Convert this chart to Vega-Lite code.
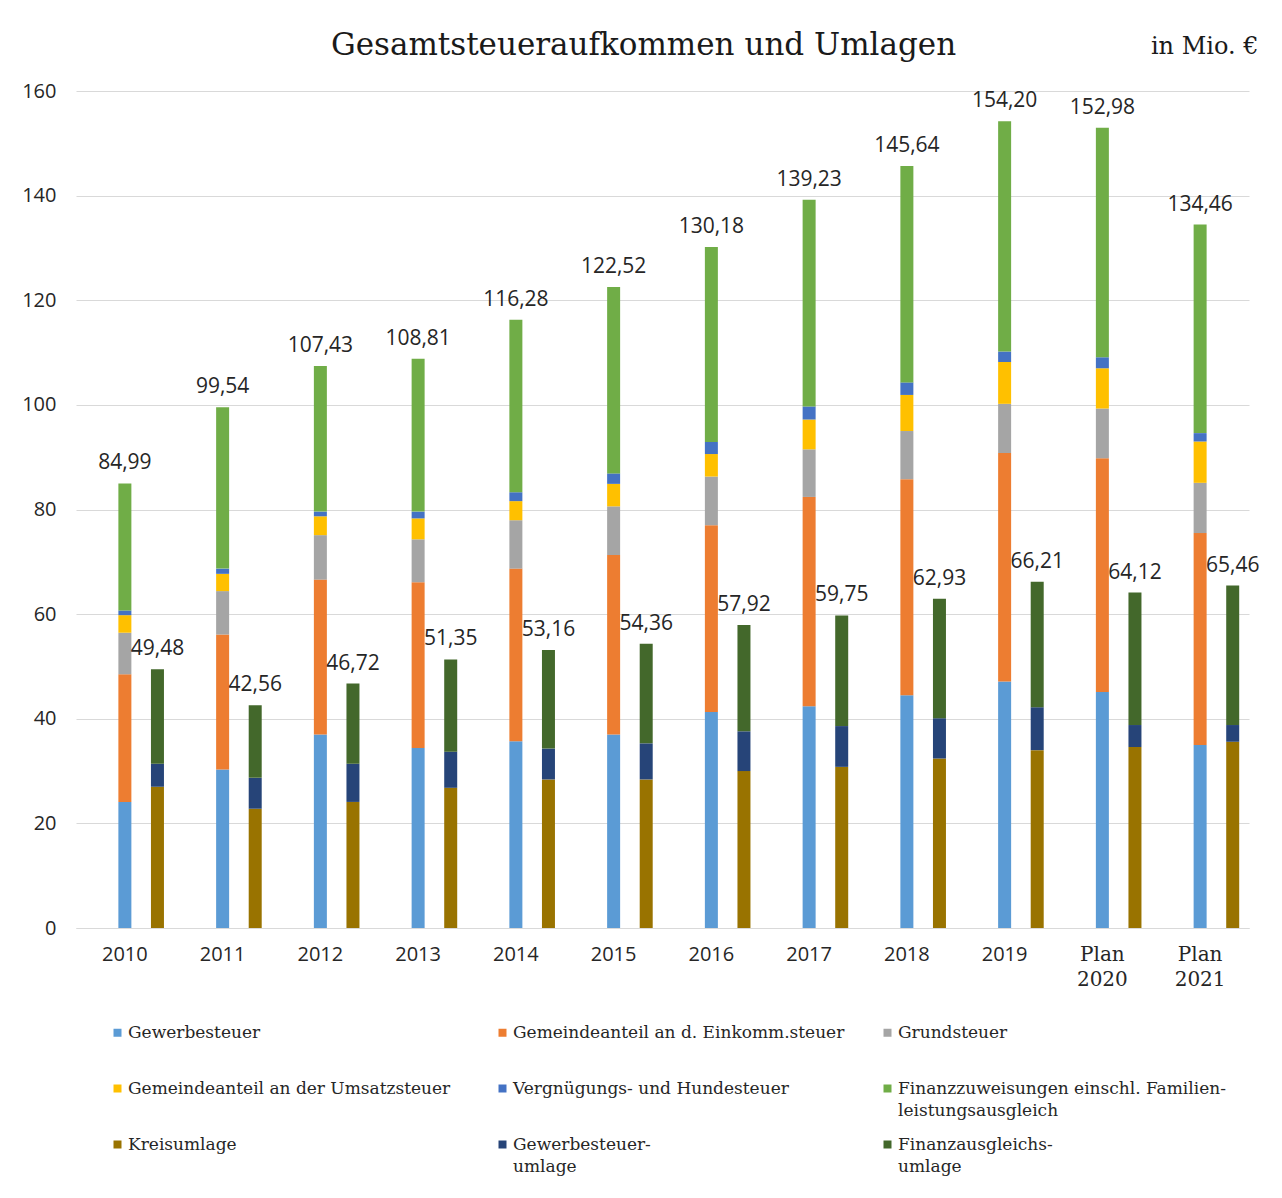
{
  "$schema": "https://vega.github.io/schema/vega-lite/v6.json",
  "width": 1173,
  "height": 837,
  "autosize": {"type": "none"},
  "padding": {"left": 76, "top": 91, "right": 33, "bottom": 270},
  "background": "white",
  "title": {"text": "Gesamtsteueraufkommen und Umlagen", "font": "DejaVu Serif", "fontSize": 31, "fontWeight": "normal", "color": "#1a1a1a", "anchor": "middle", "dx": -19, "offset": -28},
  "config": {
    "locale": {"number": {"decimal": ",", "thousands": ".", "grouping": [3], "currency": ["", " €"]}},
    "view": {"stroke": null},
    "style": {"guide-label": {"lineHeight": 22}}
  },
  "data": {"values": [
    {"j":"2010","g":"A","k":"Gewerbesteuer","v":24.1},
    {"j":"2010","g":"A","k":"Gemeindeanteil an d. Einkomm.steuer","v":24.4},
    {"j":"2010","g":"A","k":"Grundsteuer","v":7.95},
    {"j":"2010","g":"A","k":"Gemeindeanteil an der Umsatzsteuer","v":3.35},
    {"j":"2010","g":"A","k":"Vergnügungs- und Hundesteuer","v":0.9},
    {"j":"2010","g":"A","k":"Finanzzuweisungen einschl. Familienleistungsausgleich","v":24.29},
    {"j":"2010","g":"B","k":"Kreisumlage","v":27.0},
    {"j":"2010","g":"B","k":"Gewerbesteuerumlage","v":4.4},
    {"j":"2010","g":"B","k":"Finanzausgleichsumlage","v":18.08},
    {"j":"2011","g":"A","k":"Gewerbesteuer","v":30.3},
    {"j":"2011","g":"A","k":"Gemeindeanteil an d. Einkomm.steuer","v":25.8},
    {"j":"2011","g":"A","k":"Grundsteuer","v":8.3},
    {"j":"2011","g":"A","k":"Gemeindeanteil an der Umsatzsteuer","v":3.3},
    {"j":"2011","g":"A","k":"Vergnügungs- und Hundesteuer","v":1.0},
    {"j":"2011","g":"A","k":"Finanzzuweisungen einschl. Familienleistungsausgleich","v":30.84},
    {"j":"2011","g":"B","k":"Kreisumlage","v":22.8},
    {"j":"2011","g":"B","k":"Gewerbesteuerumlage","v":5.9},
    {"j":"2011","g":"B","k":"Finanzausgleichsumlage","v":13.86},
    {"j":"2012","g":"A","k":"Gewerbesteuer","v":37.0},
    {"j":"2012","g":"A","k":"Gemeindeanteil an d. Einkomm.steuer","v":29.6},
    {"j":"2012","g":"A","k":"Grundsteuer","v":8.5},
    {"j":"2012","g":"A","k":"Gemeindeanteil an der Umsatzsteuer","v":3.6},
    {"j":"2012","g":"A","k":"Vergnügungs- und Hundesteuer","v":0.9},
    {"j":"2012","g":"A","k":"Finanzzuweisungen einschl. Familienleistungsausgleich","v":27.83},
    {"j":"2012","g":"B","k":"Kreisumlage","v":24.1},
    {"j":"2012","g":"B","k":"Gewerbesteuerumlage","v":7.3},
    {"j":"2012","g":"B","k":"Finanzausgleichsumlage","v":15.32},
    {"j":"2013","g":"A","k":"Gewerbesteuer","v":34.4},
    {"j":"2013","g":"A","k":"Gemeindeanteil an d. Einkomm.steuer","v":31.7},
    {"j":"2013","g":"A","k":"Grundsteuer","v":8.2},
    {"j":"2013","g":"A","k":"Gemeindeanteil an der Umsatzsteuer","v":4.0},
    {"j":"2013","g":"A","k":"Vergnügungs- und Hundesteuer","v":1.3},
    {"j":"2013","g":"A","k":"Finanzzuweisungen einschl. Familienleistungsausgleich","v":29.21},
    {"j":"2013","g":"B","k":"Kreisumlage","v":26.8},
    {"j":"2013","g":"B","k":"Gewerbesteuerumlage","v":6.9},
    {"j":"2013","g":"B","k":"Finanzausgleichsumlage","v":17.65},
    {"j":"2014","g":"A","k":"Gewerbesteuer","v":35.7},
    {"j":"2014","g":"A","k":"Gemeindeanteil an d. Einkomm.steuer","v":33.0},
    {"j":"2014","g":"A","k":"Grundsteuer","v":9.25},
    {"j":"2014","g":"A","k":"Gemeindeanteil an der Umsatzsteuer","v":3.65},
    {"j":"2014","g":"A","k":"Vergnügungs- und Hundesteuer","v":1.7},
    {"j":"2014","g":"A","k":"Finanzzuweisungen einschl. Familienleistungsausgleich","v":32.98},
    {"j":"2014","g":"B","k":"Kreisumlage","v":28.4},
    {"j":"2014","g":"B","k":"Gewerbesteuerumlage","v":5.9},
    {"j":"2014","g":"B","k":"Finanzausgleichsumlage","v":18.86},
    {"j":"2015","g":"A","k":"Gewerbesteuer","v":37.0},
    {"j":"2015","g":"A","k":"Gemeindeanteil an d. Einkomm.steuer","v":34.3},
    {"j":"2015","g":"A","k":"Grundsteuer","v":9.3},
    {"j":"2015","g":"A","k":"Gemeindeanteil an der Umsatzsteuer","v":4.3},
    {"j":"2015","g":"A","k":"Vergnügungs- und Hundesteuer","v":2.0},
    {"j":"2015","g":"A","k":"Finanzzuweisungen einschl. Familienleistungsausgleich","v":35.62},
    {"j":"2015","g":"B","k":"Kreisumlage","v":28.4},
    {"j":"2015","g":"B","k":"Gewerbesteuerumlage","v":6.9},
    {"j":"2015","g":"B","k":"Finanzausgleichsumlage","v":19.06},
    {"j":"2016","g":"A","k":"Gewerbesteuer","v":41.3},
    {"j":"2016","g":"A","k":"Gemeindeanteil an d. Einkomm.steuer","v":35.7},
    {"j":"2016","g":"A","k":"Grundsteuer","v":9.3},
    {"j":"2016","g":"A","k":"Gemeindeanteil an der Umsatzsteuer","v":4.3},
    {"j":"2016","g":"A","k":"Vergnügungs- und Hundesteuer","v":2.3},
    {"j":"2016","g":"A","k":"Finanzzuweisungen einschl. Familienleistungsausgleich","v":37.28},
    {"j":"2016","g":"B","k":"Kreisumlage","v":30.0},
    {"j":"2016","g":"B","k":"Gewerbesteuerumlage","v":7.6},
    {"j":"2016","g":"B","k":"Finanzausgleichsumlage","v":20.32},
    {"j":"2017","g":"A","k":"Gewerbesteuer","v":42.4},
    {"j":"2017","g":"A","k":"Gemeindeanteil an d. Einkomm.steuer","v":40.0},
    {"j":"2017","g":"A","k":"Grundsteuer","v":9.1},
    {"j":"2017","g":"A","k":"Gemeindeanteil an der Umsatzsteuer","v":5.7},
    {"j":"2017","g":"A","k":"Vergnügungs- und Hundesteuer","v":2.5},
    {"j":"2017","g":"A","k":"Finanzzuweisungen einschl. Familienleistungsausgleich","v":39.53},
    {"j":"2017","g":"B","k":"Kreisumlage","v":30.8},
    {"j":"2017","g":"B","k":"Gewerbesteuerumlage","v":7.8},
    {"j":"2017","g":"B","k":"Finanzausgleichsumlage","v":21.15},
    {"j":"2018","g":"A","k":"Gewerbesteuer","v":44.5},
    {"j":"2018","g":"A","k":"Gemeindeanteil an d. Einkomm.steuer","v":41.3},
    {"j":"2018","g":"A","k":"Grundsteuer","v":9.2},
    {"j":"2018","g":"A","k":"Gemeindeanteil an der Umsatzsteuer","v":6.9},
    {"j":"2018","g":"A","k":"Vergnügungs- und Hundesteuer","v":2.4},
    {"j":"2018","g":"A","k":"Finanzzuweisungen einschl. Familienleistungsausgleich","v":41.34},
    {"j":"2018","g":"B","k":"Kreisumlage","v":32.4},
    {"j":"2018","g":"B","k":"Gewerbesteuerumlage","v":7.7},
    {"j":"2018","g":"B","k":"Finanzausgleichsumlage","v":22.83},
    {"j":"2019","g":"A","k":"Gewerbesteuer","v":47.1},
    {"j":"2019","g":"A","k":"Gemeindeanteil an d. Einkomm.steuer","v":43.7},
    {"j":"2019","g":"A","k":"Grundsteuer","v":9.4},
    {"j":"2019","g":"A","k":"Gemeindeanteil an der Umsatzsteuer","v":8.0},
    {"j":"2019","g":"A","k":"Vergnügungs- und Hundesteuer","v":2.0},
    {"j":"2019","g":"A","k":"Finanzzuweisungen einschl. Familienleistungsausgleich","v":44.0},
    {"j":"2019","g":"B","k":"Kreisumlage","v":34.0},
    {"j":"2019","g":"B","k":"Gewerbesteuerumlage","v":8.2},
    {"j":"2019","g":"B","k":"Finanzausgleichsumlage","v":24.01},
    {"j":"Plan 2020","g":"A","k":"Gewerbesteuer","v":45.1},
    {"j":"Plan 2020","g":"A","k":"Gemeindeanteil an d. Einkomm.steuer","v":44.7},
    {"j":"Plan 2020","g":"A","k":"Grundsteuer","v":9.5},
    {"j":"Plan 2020","g":"A","k":"Gemeindeanteil an der Umsatzsteuer","v":7.7},
    {"j":"Plan 2020","g":"A","k":"Vergnügungs- und Hundesteuer","v":2.1},
    {"j":"Plan 2020","g":"A","k":"Finanzzuweisungen einschl. Familienleistungsausgleich","v":43.88},
    {"j":"Plan 2020","g":"B","k":"Kreisumlage","v":34.6},
    {"j":"Plan 2020","g":"B","k":"Gewerbesteuerumlage","v":4.2},
    {"j":"Plan 2020","g":"B","k":"Finanzausgleichsumlage","v":25.32},
    {"j":"Plan 2021","g":"A","k":"Gewerbesteuer","v":35.0},
    {"j":"Plan 2021","g":"A","k":"Gemeindeanteil an d. Einkomm.steuer","v":40.5},
    {"j":"Plan 2021","g":"A","k":"Grundsteuer","v":9.6},
    {"j":"Plan 2021","g":"A","k":"Gemeindeanteil an der Umsatzsteuer","v":7.9},
    {"j":"Plan 2021","g":"A","k":"Vergnügungs- und Hundesteuer","v":1.6},
    {"j":"Plan 2021","g":"A","k":"Finanzzuweisungen einschl. Familienleistungsausgleich","v":39.86},
    {"j":"Plan 2021","g":"B","k":"Kreisumlage","v":35.6},
    {"j":"Plan 2021","g":"B","k":"Gewerbesteuerumlage","v":3.2},
    {"j":"Plan 2021","g":"B","k":"Finanzausgleichsumlage","v":26.66}
  ]},
  "encoding": {
    "x": {
      "field": "j", "type": "nominal", "sort": null,
      "scale": {"paddingInner": 0, "paddingOuter": 0},
      "axis": {
        "title": null, "labelAngle": 0, "ticks": false,
        "domain": true, "domainColor": "#d9d9d9", "domainWidth": 1,
        "labelExpr": "indexof(datum.value, 'Plan') == 0 ? split(datum.value, ' ') : datum.value",
        "labelFont": {"condition": {"test": "indexof(datum.value, 'Plan') == 0", "value": "DejaVu Serif"}, "value": "Open Sans"},
        "labelFontSize": 20, "labelColor": "#262626", "labelPadding": 16, "labelLineHeight": 25
      }
    },
    "xOffset": {"field": "g", "type": "nominal", "scale": {"domain": ["X", "A", "B"], "paddingInner": 0, "paddingOuter": 0}}
  },
  "layer": [
    {
      "transform": [{"calculate": "indexof(['Gewerbesteuer', 'Gemeindeanteil an d. Einkomm.steuer', 'Grundsteuer', 'Gemeindeanteil an der Umsatzsteuer', 'Vergnügungs- und Hundesteuer', 'Finanzzuweisungen einschl. Familienleistungsausgleich', 'Kreisumlage', 'Gewerbesteuerumlage', 'Finanzausgleichsumlage'], datum.k)", "as": "o"}],
      "mark": {"type": "bar", "width": 13},
      "encoding": {
        "y": {
          "field": "v", "type": "quantitative", "stack": "zero",
          "scale": {"domain": [0, 160], "nice": false},
          "axis": {
            "values": [0, 20, 40, 60, 80, 100, 120, 140, 160],
            "grid": true, "gridColor": "#d9d9d9", "gridWidth": 1,
            "domain": false, "ticks": false,
            "labelFont": "Open Sans", "labelFontSize": 20, "labelColor": "#262626", "labelPadding": 20,
            "title": "in Mio. €", "titleAngle": 0, "titleX": 1182, "titleY": -38, "titleAlign": "right",
            "titleBaseline": "alphabetic", "titleFont": "DejaVu Serif", "titleFontSize": 24,
            "titleFontWeight": "normal", "titleColor": "#1a1a1a"
          }
        },
        "order": {"field": "o", "type": "quantitative", "sort": "ascending"},
        "color": {
          "field": "k", "type": "nominal",
          "sort": ["Gewerbesteuer", "Gemeindeanteil an d. Einkomm.steuer", "Grundsteuer", "Gemeindeanteil an der Umsatzsteuer", "Vergnügungs- und Hundesteuer", "Finanzzuweisungen einschl. Familienleistungsausgleich", "Kreisumlage", "Gewerbesteuerumlage", "Finanzausgleichsumlage"],
          "scale": {
            "domain": ["Gewerbesteuer", "Gemeindeanteil an d. Einkomm.steuer", "Grundsteuer", "Gemeindeanteil an der Umsatzsteuer", "Vergnügungs- und Hundesteuer", "Finanzzuweisungen einschl. Familienleistungsausgleich", "Kreisumlage", "Gewerbesteuerumlage", "Finanzausgleichsumlage"],
            "range": ["#5B9BD5", "#ED7D31", "#A5A5A5", "#FFC000", "#4472C4", "#70AD47", "#997300", "#264478", "#43682B"]
          },
          "legend": {
            "title": null, "orient": "none", "legendX": 33, "legendY": 933,
            "direction": "horizontal",
            "columns": 3, "gridAlign": "all", "columnPadding": 34, "rowPadding": 16,
            "padding": 0, "symbolType": "square", "symbolSize": 64, "symbolStrokeWidth": 0,
            "labelFont": "DejaVu Serif", "labelFontSize": 17, "labelColor": "#262626",
            "labelLimit": 420, "labelOffset": 2,
            "labelExpr": "datum.label == 'Finanzzuweisungen einschl. Familienleistungsausgleich' ? ['Finanzzuweisungen einschl. Familien-', 'leistungsausgleich'] : datum.label == 'Gewerbesteuerumlage' ? ['Gewerbesteuer-', 'umlage'] : datum.label == 'Finanzausgleichsumlage' ? ['Finanzausgleichs-', 'umlage'] : [datum.label, ' ']"
          }
        }
      }
    },
    {
      "transform": [{"aggregate": [{"op": "sum", "field": "v", "as": "t"}], "groupby": ["j", "g"]}],
      "mark": {"type": "text", "dy": -20, "font": "Open Sans", "fontSize": 21, "color": "#262626"},
      "encoding": {
        "y": {"field": "t", "type": "quantitative"},
        "text": {"field": "t", "type": "quantitative", "format": ".2f"}
      }
    }
  ]
}
